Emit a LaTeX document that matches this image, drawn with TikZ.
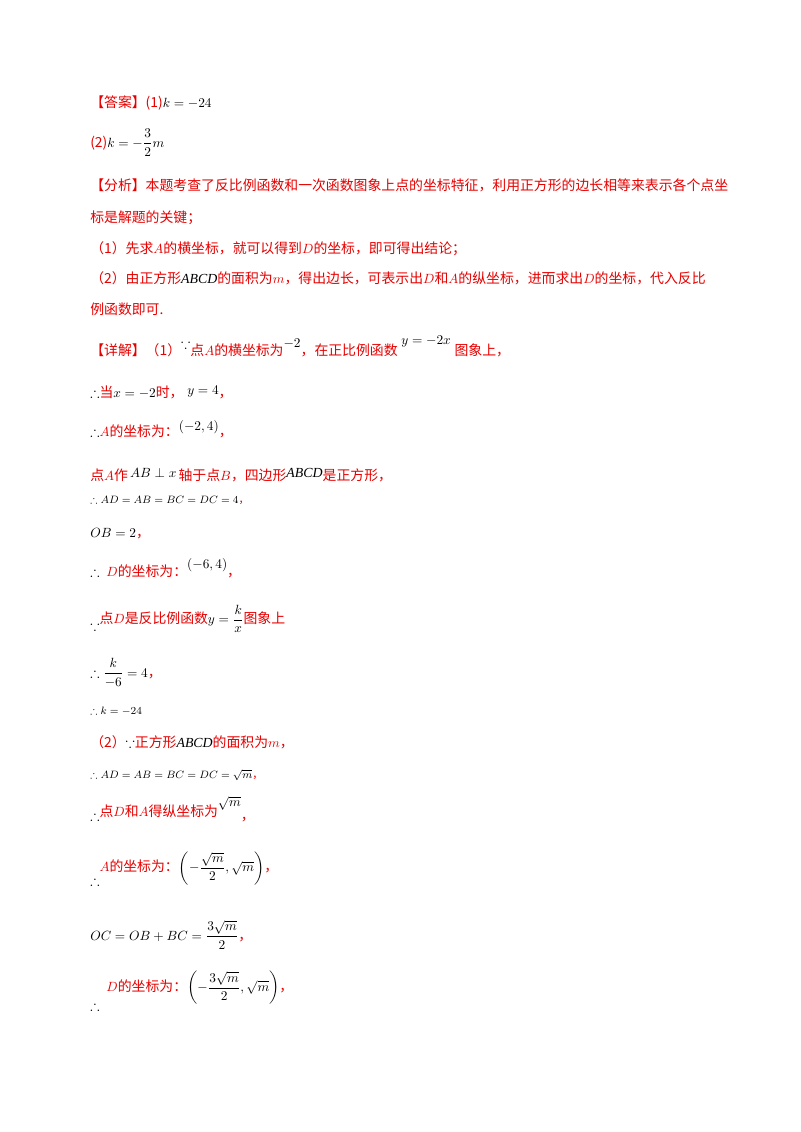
\documentclass[tikz,border=0pt]{standalone}
\usepackage{amsmath,amssymb}
\usepackage{fontspec}
\setmainfont{Liberation Serif}
\newfontfamily\cjk{Noto Sans CJK SC}
\definecolor{rd}{RGB}{230,0,0}
\newcommand{\R}[1]{\textcolor{rd}{\cjk #1}}
\begin{document}
\begin{tikzpicture}[x=0.75pt,y=-0.75pt,
  ln/.style={anchor=base west,inner sep=0pt,font=\fontsize{10.4}{13}\selectfont},
  sm/.style={anchor=base west,inner sep=0pt,font=\fontsize{8}{10}\selectfont}]
\useasboundingbox (0,0) rectangle (800,1132);
\node[ln] (l1) at (90,107) {\R{【答案】(1)}$k=-24$};
\node[ln] (l2) at (90,147) {\R{(2)}$k=-\dfrac{3}{2}m$};
\node[ln] (l3) at (90,190) {\R{【分析】本题考查了反比例函数和一次函数图象上点的坐标特征，利用正方形的边长相等来表示各个点坐}};
\node[ln] (l4) at (90,222) {\R{标是解题的关键；}};
\node[ln] (l5) at (90,253) {\R{（1）先求$A$的横坐标，就可以得到$D$的坐标，即可得出结论；}};
\node[ln] (l6) at (90,283) {\R{（2）由正方形}$\mathit{ABCD}$\R{的面积为$m$，得出边长，可表示出$D$和$A$的纵坐标，进而求出$D$的坐标，代入反比}};
\node[ln] (l7) at (90,314) {\R{例函数即可.}};
\node[ln] (l8) at (90,355) {\R{【详解】（1）}\raisebox{5pt}{$\because$}\R{点$A$的横坐标为}\raisebox{6pt}{$-2$}\R{，在正比例函数}\raisebox{8pt}{$\;y=-2x\;$}\R{图象上，}};
\node[ln] (l9) at (90,397) {$\therefore$\R{当}$x=-2$\R{时，}\raisebox{2pt}{$\;y=4$}\R{，}};
\node[ln] (l10) at (90,436) {$\therefore$\R{$A$的坐标为：}\raisebox{4pt}{$(-2,4)$}\R{，}};
\node[ln] (l11) at (90,480) {\R{点$A$作}\raisebox{2pt}{$\,AB\perp x\,$}\R{轴于点$B$，四边形}\raisebox{2pt}{$\mathit{ABCD}$}\R{是正方形，}};
\node[sm] (l12) at (90,503) {$\therefore AD=AB=BC=DC=4$\R{，}};
\node[ln] (l13) at (90,537) {$OB=2$\R{，}};
\node[ln] (l14) at (90,576) {$\therefore$\R{\; $D$的坐标为：}\raisebox{6pt}{$(-6,4)$}\R{，}};
\node[ln] (l15) at (90,630) {$\because$\raisebox{5pt}{\R{点$D$是反比例函数}$y=\dfrac{k}{x}$\R{图象上}}};
\node[ln] (l16) at (90,677) {$\therefore\dfrac{k}{-6}=4$\R{，}};
\node[sm] (l17) at (90,714) {$\therefore k=-24$};
\node[ln] (l18) at (90,747) {\R{（2）}$\because$\R{正方形}$\mathit{ABCD}$\R{的面积为$m$，}};
\node[sm] (l19) at (90,778) {$\therefore AD=AB=BC=DC=\sqrt{m}$\R{，}};
\node[ln] (l20) at (90,820) {$\therefore$\raisebox{3pt}{\R{点$D$和$A$得纵坐标为}}\raisebox{10pt}{$\sqrt{m}$}\R{，}};
\node[ln] (l21) at (90,885) {$\therefore$\raisebox{10pt}{\R{$A$的坐标为：}$\left(-\dfrac{\sqrt{m}}{2},\sqrt{m}\right)$\R{，}}};
\node[ln] (l22) at (90,940) {$OC=OB+BC=\dfrac{3\sqrt{m}}{2}$\R{，}};
\node[ln] (l23) at (90,1010) {$\therefore$\raisebox{14pt}{\R{\; $D$的坐标为：}$\left(-\dfrac{3\sqrt{m}}{2},\sqrt{m}\right)$\R{，}}};
\end{tikzpicture}
\end{document}
